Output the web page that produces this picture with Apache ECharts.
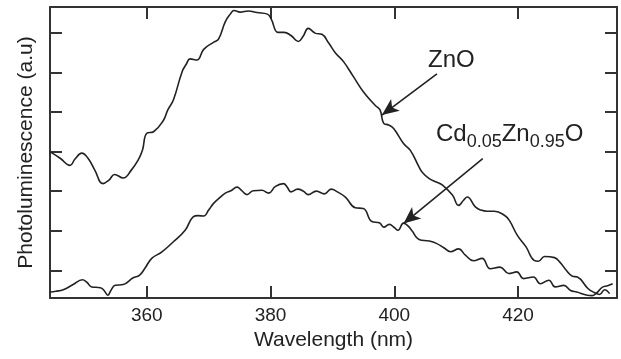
<!DOCTYPE html>
<html>
<head>
<meta charset="utf-8">
<script src="https://cdn.jsdelivr.net/npm/echarts@6/dist/echarts.min.js"></script>
<style>
  html, body { margin: 0; padding: 0; background: #fff; }
  #chart { width: 621px; height: 359px; }
</style>
</head>
<body>
<div id="chart"></div>
<script>
// photoluminescence spectra (a.u = tick units)
const znoWavelength = [344.4, 346.0, 347.6, 348.4, 349.5, 350.5, 351.6, 352.9, 353.9, 354.8, 356.2, 357.5, 358.6, 359.3,
  360.0, 361.1, 362.7, 363.4, 364.3, 365.7, 366.4, 367.0, 368.1, 369.2, 370.9, 371.6, 372.7, 373.5, 374.1, 375.1,
  376.4, 377.8, 379.5, 380.1, 381.2, 382.2, 383.3, 384.5, 385.3, 386.1, 387.2, 388.3, 389.4, 390.5, 391.8, 393.4,
  395.0, 396.9, 397.7, 398.3, 399.1, 399.9, 401.5, 402.6, 404.0, 404.5, 405.6, 406.8, 407.8, 409.4, 410.4, 411.2,
  411.8, 413.1, 414.0, 415.0, 416.2, 417.8, 418.6, 419.9, 421.3, 422.6, 423.3, 424.3, 425.9, 426.8, 427.8, 428.8,
  429.6, 431.3, 432.3, 433.2, 434.0, 434.8];
const znoIntensity = [3.99, 3.83, 3.65, 3.81, 3.96, 3.83, 3.53, 3.19, 3.28, 3.42, 3.33, 3.53, 3.78, 4.03,
  4.46, 4.50, 4.79, 5.05, 5.30, 6.01, 6.21, 6.34, 6.31, 6.58, 6.77, 6.84, 7.28, 7.47, 7.56, 7.52,
  7.55, 7.51, 7.47, 7.35, 7.01, 7.01, 6.93, 6.78, 6.92, 7.11, 6.99, 6.96, 6.74, 6.49, 6.27, 5.89,
  5.51, 5.17, 5.05, 4.71, 4.67, 4.58, 4.20, 4.03, 3.61, 3.48, 3.32, 3.23, 3.15, 2.90, 2.64, 2.77,
  2.85, 2.60, 2.52, 2.49, 2.49, 2.39, 2.26, 1.88, 1.59, 1.25, 1.23, 1.35, 1.32, 1.20, 1.00, 0.85,
  0.83, 0.54, 0.44, 0.39, 0.51, 0.41];

const cdWavelength = [344.4, 345.3, 346.5, 348.1, 349.6, 350.3, 351.1, 352.5, 353.1, 353.7, 354.2, 354.9, 356.2, 357.8,
  358.8, 359.7, 360.8, 362.4, 364.3, 366.2, 367.5, 368.3, 369.2, 370.0, 370.8, 371.9, 372.7, 373.6, 374.6, 375.3,
  376.2, 377.2, 378.6, 379.7, 380.8, 382.1, 382.7, 383.3, 384.4, 385.3, 386.1, 387.4, 388.7, 389.8, 390.8, 392.1,
  393.7, 395.0, 396.4, 397.6, 398.3, 399.2, 400.0, 400.6, 401.5, 402.3, 402.9, 404.0, 405.6, 406.8, 408.0, 409.1,
  410.4, 411.5, 412.8, 414.2, 415.5, 417.1, 418.5, 419.8, 420.9, 422.5, 423.6, 425.0, 426.0, 427.4, 428.5, 429.5,
  431.2, 432.0, 432.8, 433.6, 434.5, 435.3];
const cdIntensity = [0.45, 0.47, 0.51, 0.64, 0.76, 0.70, 0.58, 0.56, 0.49, 0.37, 0.49, 0.62, 0.64, 0.81,
  0.87, 1.05, 1.30, 1.46, 1.72, 2.01, 2.35, 2.38, 2.37, 2.52, 2.69, 2.85, 2.95, 3.01, 3.10, 3.02,
  2.91, 3.01, 3.02, 2.95, 3.12, 3.19, 3.10, 2.98, 3.05, 3.00, 2.91, 3.00, 2.93, 3.05, 2.98, 2.85,
  2.58, 2.56, 2.23, 2.20, 2.09, 2.16, 2.08, 2.01, 2.19, 2.11, 1.99, 1.78, 1.74, 1.68, 1.57, 1.47,
  1.54, 1.38, 1.24, 1.30, 1.04, 1.08, 0.92, 0.96, 0.79, 0.83, 0.66, 0.75, 0.58, 0.62, 0.49, 0.45,
  0.37, 0.36, 0.44, 0.57, 0.61, 0.66];

// annotation arrows: [start, tip] in data units
const znoArrow = [[406.9, 5.96], [398.0, 4.92]];
const cdArrow = [[414.3, 3.82], [401.5, 2.18]];

const xMin = 344.36, xMax = 436.0;
const yMin = 0.3, yMax = 7.65;

const ink = '#222';
const font = 'Liberation Sans, Arial, Helvetica, sans-serif';

const chart = echarts.init(document.getElementById('chart'));

function pairs(xs, ys) {
  return xs.map((x, i) => [x, ys[i]]);
}

function arrow(a) {
  return {
    silent: true,
    animation: false,
    symbol: ['none', 'arrow'],
    symbolSize: [11, 17],
    label: { show: false },
    lineStyle: { color: ink, width: 1.6, type: 'solid' },
    data: [[{ coord: a[0] }, { coord: a[1] }]]
  };
}

// chemical formula with subscripts, laid out piece by piece
const measure = document.createElement('canvas').getContext('2d');
function formula(parts, left, baseline) {
  const out = [];
  let x = left;
  parts.forEach(p => {
    const size = p.sub ? 18 : 24;
    const base = p.sub ? baseline + 5 : baseline;
    measure.font = size + 'px ' + font;
    out.push({
      type: 'text', x: x, y: base,
      style: { text: p.t, fill: ink, font: size + 'px ' + font, verticalAlign: 'bottom' }
    });
    x += measure.measureText(p.t).width;
  });
  return out;
}

const axisLine = { show: true, onZero: false, lineStyle: { color: '#333', width: 2 } };
const tick = { show: true, inside: true, length: 12, lineStyle: { color: '#333', width: 2 } };

const option = {
  animation: false,
  grid: { left: 50, right: 4, top: 7, bottom: 61 },
  xAxis: [
    {
      type: 'value', min: xMin, max: xMax, position: 'bottom',
      axisLine: axisLine, axisTick: tick, splitLine: { show: false },
      axisLabel: {
        color: ink, fontSize: 19, fontFamily: font, margin: 8,
        formatter: v => (Math.abs(v % 20) < 1e-6 ? String(v) : '')
      },
      name: 'Wavelength (nm)', nameLocation: 'middle', nameGap: 31,
      nameTextStyle: { color: ink, fontSize: 21, fontFamily: font }
    },
    {
      type: 'value', min: xMin, max: xMax, position: 'top',
      axisLine: axisLine, axisTick: tick, splitLine: { show: false },
      axisLabel: { show: false }
    }
  ],
  yAxis: [
    {
      type: 'value', min: yMin, max: yMax, position: 'left',
      axisLine: axisLine, axisTick: tick, splitLine: { show: false },
      axisLabel: { show: false },
      name: 'Photoluminescence (a.u)', nameLocation: 'middle', nameGap: 13,
      nameTextStyle: { color: ink, fontSize: 21, fontFamily: font }
    },
    {
      type: 'value', min: yMin, max: yMax, position: 'right',
      axisLine: axisLine, axisTick: tick, splitLine: { show: false },
      axisLabel: { show: false }
    }
  ],
  series: [
    {
      name: 'ZnO', type: 'line', data: pairs(znoWavelength, znoIntensity),
      showSymbol: false, smooth: 0.45,
      lineStyle: { color: ink, width: 1.6 },
      markLine: arrow(znoArrow)
    },
    {
      name: 'Cd0.05Zn0.95O', type: 'line', data: pairs(cdWavelength, cdIntensity),
      showSymbol: false, smooth: 0.45,
      lineStyle: { color: ink, width: 1.6 },
      markLine: arrow(cdArrow)
    }
  ],
  graphic: [
    {
      type: 'text', x: 428, y: 72,
      style: { text: 'ZnO', fill: ink, font: '24px ' + font, verticalAlign: 'bottom' }
    }
  ].concat(formula([
    { t: 'Cd' }, { t: '0.05', sub: true }, { t: 'Zn' }, { t: '0.95', sub: true }, { t: 'O' }
  ], 436, 146))
};

chart.setOption(option);
</script>
</body>
</html>
